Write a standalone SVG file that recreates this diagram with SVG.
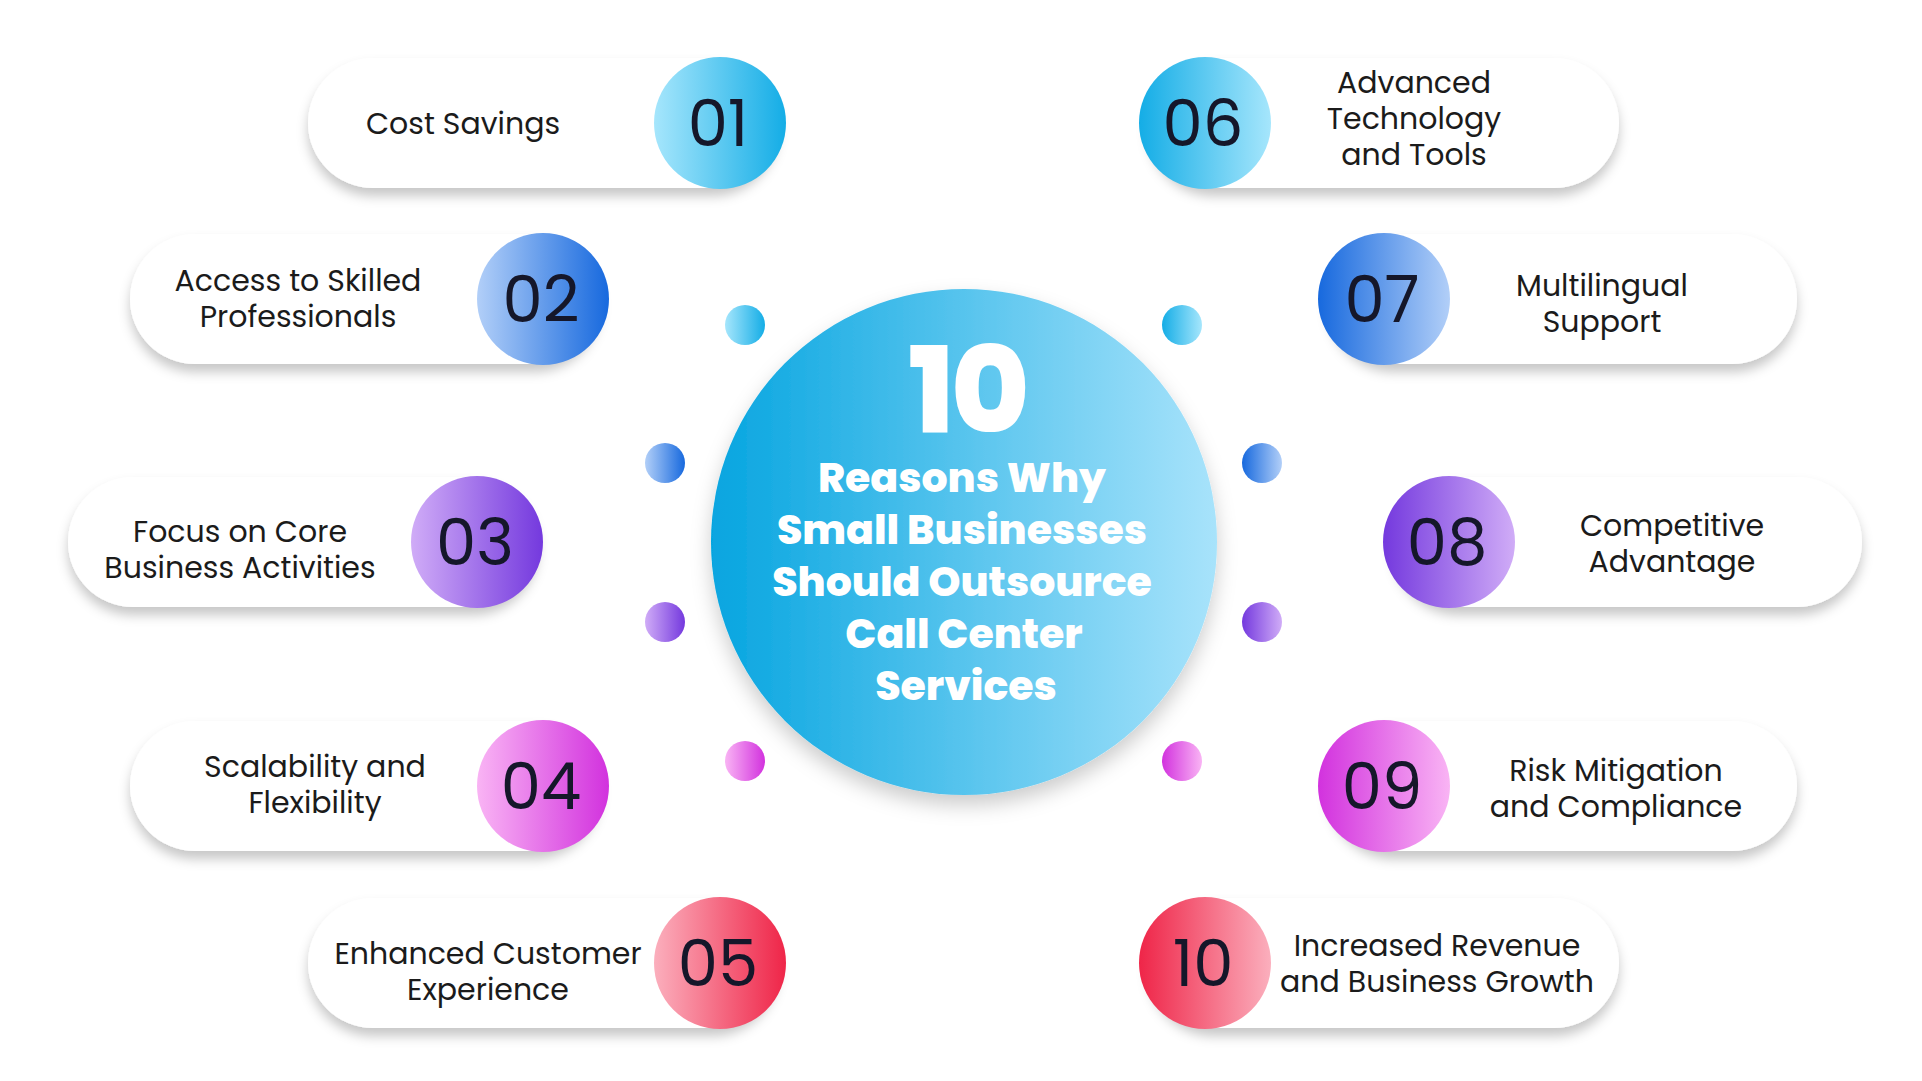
<svg xmlns="http://www.w3.org/2000/svg" width="1922" height="1081" viewBox="0 0 1922 1081">
<defs>
<filter id="sh" x="-10%" y="-30%" width="120%" height="170%"><feDropShadow dx="0" dy="8" stdDeviation="6" flood-color="#000" flood-opacity="0.22"/></filter>
<filter id="sh2" x="-20%" y="-20%" width="140%" height="150%"><feDropShadow dx="0" dy="10" stdDeviation="10" flood-color="#000" flood-opacity="0.2"/></filter>
<linearGradient id="gc" x1="0" y1="0" x2="1" y2="0"><stop offset="0" stop-color="#06a5e0"/><stop offset="1" stop-color="#a8e3fb"/></linearGradient>
<linearGradient id="g1" x1="0" y1="0" x2="1" y2="0"><stop offset="0" stop-color="#a6e6fc"/><stop offset="1" stop-color="#14ade6"/></linearGradient>
<linearGradient id="g2" x1="0" y1="0" x2="1" y2="0"><stop offset="0" stop-color="#b2cff8"/><stop offset="1" stop-color="#1769de"/></linearGradient>
<linearGradient id="g3" x1="0" y1="0" x2="1" y2="0"><stop offset="0" stop-color="#d0acf7"/><stop offset="1" stop-color="#7439de"/></linearGradient>
<linearGradient id="g4" x1="0" y1="0" x2="1" y2="0"><stop offset="0" stop-color="#f9b4f4"/><stop offset="1" stop-color="#d232de"/></linearGradient>
<linearGradient id="g5" x1="0" y1="0" x2="1" y2="0"><stop offset="0" stop-color="#fbafbd"/><stop offset="1" stop-color="#ef2548"/></linearGradient>
<linearGradient id="h1" x1="1" y1="0" x2="0" y2="0"><stop offset="0" stop-color="#a6e6fc"/><stop offset="1" stop-color="#14ade6"/></linearGradient>
<linearGradient id="h2" x1="1" y1="0" x2="0" y2="0"><stop offset="0" stop-color="#b2cff8"/><stop offset="1" stop-color="#1769de"/></linearGradient>
<linearGradient id="h3" x1="1" y1="0" x2="0" y2="0"><stop offset="0" stop-color="#d0acf7"/><stop offset="1" stop-color="#7439de"/></linearGradient>
<linearGradient id="h4" x1="1" y1="0" x2="0" y2="0"><stop offset="0" stop-color="#f9b4f4"/><stop offset="1" stop-color="#d232de"/></linearGradient>
<linearGradient id="h5" x1="1" y1="0" x2="0" y2="0"><stop offset="0" stop-color="#fbafbd"/><stop offset="1" stop-color="#ef2548"/></linearGradient>
</defs>
<style>
.pill{fill:#fff;filter:url(#sh)}
.lbl{font-family:Poppins,"Noto Sans","Liberation Sans",sans-serif;font-size:30px;fill:#1b1b1b;text-anchor:middle}
.num{font-family:Poppins,"Noto Sans","Liberation Sans",sans-serif;font-size:64px;fill:#15172a;text-anchor:middle;dominant-baseline:central}
.ttl{font-family:Poppins,"Noto Sans","Liberation Sans",sans-serif;font-weight:800;font-size:41px;fill:#fff;text-anchor:middle}
</style>
<rect width="1922" height="1081" fill="#fff"/>
<g id="center"><circle cx="964" cy="542" r="253" fill="url(#gc)" filter="url(#sh2)"/>
<text class="ttl" x="967" y="432" style="font-size:120px;letter-spacing:-4px">10</text>
<text class="ttl" x="962" y="492">Reasons Why</text>
<text class="ttl" x="962" y="544">Small Businesses</text>
<text class="ttl" x="962" y="596">Should Outsource</text>
<text class="ttl" x="964" y="648">Call Center</text>
<text class="ttl" x="966" y="700">Services</text></g>
<g id="connectors">
<circle cx="745" cy="325" r="20" fill="url(#g1)"/><circle cx="665" cy="463" r="20" fill="url(#g2)"/><circle cx="665" cy="622" r="20" fill="url(#g3)"/><circle cx="745" cy="761" r="20" fill="url(#g4)"/>
<circle cx="1182" cy="325" r="20" fill="url(#h1)"/><circle cx="1262" cy="463" r="20" fill="url(#h2)"/><circle cx="1262" cy="622" r="20" fill="url(#h3)"/><circle cx="1182" cy="761" r="20" fill="url(#h4)"/>
</g>
<g id="n01"><rect class="pill" x="308" y="58" width="470" height="130" rx="65"/><circle cx="720" cy="123" r="66" fill="url(#g1)"/><text class="num" x="718" y="123">01</text><text class="lbl" x="463" y="134">Cost Savings</text></g>
<g id="n02"><rect class="pill" x="130" y="234" width="470" height="130" rx="65"/><circle cx="543" cy="299" r="66" fill="url(#g2)"/><text class="num" x="541" y="299">02</text><text class="lbl" x="298" y="291">Access to Skilled</text><text class="lbl" x="298" y="327">Professionals</text></g>
<g id="n03"><rect class="pill" x="68" y="477" width="470" height="130" rx="65"/><circle cx="477" cy="542" r="66" fill="url(#g3)"/><text class="num" x="475" y="542">03</text><text class="lbl" x="240" y="542">Focus on Core</text><text class="lbl" x="240" y="578">Business Activities</text></g>
<g id="n04"><rect class="pill" x="130" y="721" width="470" height="130" rx="65"/><circle cx="543" cy="786" r="66" fill="url(#g4)"/><text class="num" x="541" y="786">04</text><text class="lbl" x="315" y="777">Scalability and</text><text class="lbl" x="315" y="813">Flexibility</text></g>
<g id="n05"><rect class="pill" x="308" y="898" width="470" height="130" rx="65"/><circle cx="720" cy="963" r="66" fill="url(#g5)"/><text class="num" x="718" y="963">05</text><text class="lbl" x="488" y="964">Enhanced Customer</text><text class="lbl" x="488" y="1000">Experience</text></g>
<g id="n06"><rect class="pill" x="1148" y="58" width="471" height="130" rx="65"/><circle cx="1205" cy="123" r="66" fill="url(#h1)"/><text class="num" x="1203" y="123">06</text><text class="lbl" x="1414" y="93">Advanced</text><text class="lbl" x="1414" y="129">Technology</text><text class="lbl" x="1414" y="165">and Tools</text></g>
<g id="n07"><rect class="pill" x="1328" y="234" width="469" height="130" rx="65"/><circle cx="1384" cy="299" r="66" fill="url(#h2)"/><text class="num" x="1382" y="299">07</text><text class="lbl" x="1602" y="296">Multilingual</text><text class="lbl" x="1602" y="332">Support</text></g>
<g id="n08"><rect class="pill" x="1393" y="477" width="469" height="130" rx="65"/><circle cx="1449" cy="542" r="66" fill="url(#h3)"/><text class="num" x="1447" y="542">08</text><text class="lbl" x="1672" y="536">Competitive</text><text class="lbl" x="1672" y="572">Advantage</text></g>
<g id="n09"><rect class="pill" x="1328" y="721" width="469" height="130" rx="65"/><circle cx="1384" cy="786" r="66" fill="url(#h4)"/><text class="num" x="1382" y="786">09</text><text class="lbl" x="1616" y="781">Risk Mitigation</text><text class="lbl" x="1616" y="817">and Compliance</text></g>
<g id="n10"><rect class="pill" x="1148" y="898" width="471" height="130" rx="65"/><circle cx="1205" cy="963" r="66" fill="url(#h5)"/><text class="num" x="1203" y="963">10</text><text class="lbl" x="1437" y="956">Increased Revenue</text><text class="lbl" x="1437" y="992">and Business Growth</text></g>
</svg>
